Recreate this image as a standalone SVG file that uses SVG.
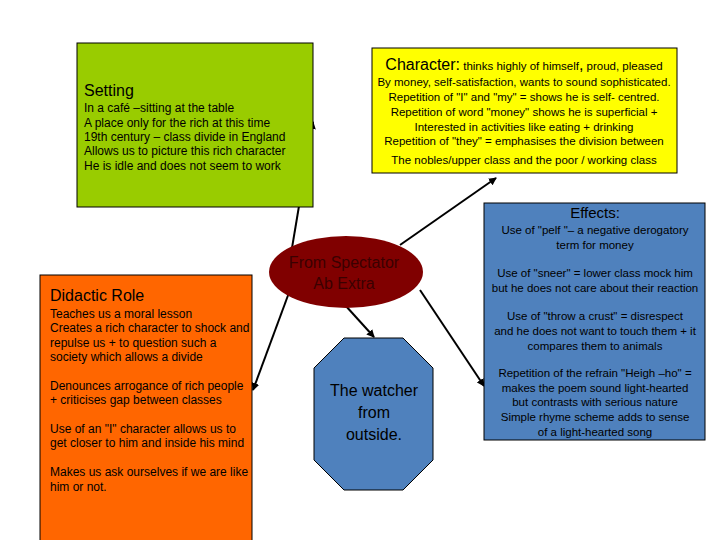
<svg xmlns="http://www.w3.org/2000/svg" width="720" height="540" viewBox="0 0 720 540">
<defs><marker id="a" markerWidth="8" markerHeight="8" refX="7" refY="4" orient="auto" markerUnits="userSpaceOnUse"><path d="M0,0L8,4L0,8z" fill="#000"/></marker></defs>
<style>text{font-family:"Liberation Sans",Arial,sans-serif;fill:#000}.s{font-size:12px}.m{font-size:11.5px}.l{stroke:#000;stroke-width:2;marker-end:url(#a)}</style>
<rect width="720" height="540" fill="#fff"/>
<g id="connectors">
<line class="l" x1="290" y1="260" x2="313" y2="122"/>
<line class="l" x1="290" y1="290" x2="253" y2="390"/>
<line class="l" x1="400" y1="245" x2="496" y2="178"/>
<line class="l" x1="420" y1="290" x2="484" y2="386"/>
<line class="l" x1="345" y1="305" x2="374" y2="337"/>
</g>
<g id="setting"><rect x="77" y="43" width="236" height="164" fill="#99cc00" stroke="#000"/>
<text x="84" y="96" font-size="16">Setting</text>
<text class="s" x="84" y="112">In a café –sitting at the table</text>
<text class="s" x="84" y="127">A place only for the rich at this time</text>
<text class="s" x="84" y="141">19th century – class divide in England</text>
<text class="s" x="84" y="155">Allows us to picture this rich character</text>
<text class="s" x="84" y="170">He is idle and does not seem to work</text></g>
<g id="character"><rect x="372" y="48" width="305" height="125" fill="#ffff00" stroke="#000"/>
<g text-anchor="middle"><text x="524" y="70" class="m"><tspan font-size="16">Character:</tspan> thinks highly of himself<tspan font-size="16">,</tspan> proud, pleased</text>
<text class="m" x="524" y="86">By money, self-satisfaction, wants to sound sophisticated.</text>
<text class="m" x="524" y="101">Repetition of "I" and "my" = shows he is self- centred.</text>
<text class="m" x="524" y="116">Repetition of word "money" shows he is superficial +</text>
<text class="m" x="524" y="131">Interested in activities like eating + drinking</text>
<text class="m" x="524" y="145">Repetition of "they" = emphasises the division between</text>
<text class="m" x="524" y="164">The nobles/upper class and the poor / working class</text></g></g>
<g id="effects"><rect x="484" y="203" width="221" height="237" fill="#4f81bd" stroke="#000"/>
<g text-anchor="middle"><text x="595" y="218" font-size="15">Effects:</text>
<text class="m" x="595" y="234">Use of "pelf "– a negative derogatory</text>
<text class="m" x="595" y="249">term for money</text>
<text class="m" x="595" y="277">Use of "sneer" = lower class mock him</text>
<text class="m" x="595" y="292">but he does not care about their reaction</text>
<text class="m" x="595" y="320">Use of "throw a crust" = disrespect</text>
<text class="m" x="595" y="335">and he does not want to touch them + it</text>
<text class="m" x="595" y="350">compares them to animals</text>
<text class="m" x="595" y="377">Repetition of the refrain "Heigh –ho" =</text>
<text class="m" x="595" y="392">makes the poem sound light-hearted</text>
<text class="m" x="595" y="406">but contrasts with serious nature</text>
<text class="m" x="595" y="421">Simple rhyme scheme adds to sense</text>
<text class="m" x="595" y="436">of a light-hearted song</text></g></g>
<g id="didactic"><rect x="40" y="275" width="212" height="270" fill="#ff6600" stroke="#000"/>
<text x="50" y="301" font-size="16">Didactic Role</text>
<text class="s" x="50" y="318">Teaches us a moral lesson</text>
<text class="s" x="50" y="332">Creates a rich character to shock and</text>
<text class="s" x="50" y="347">repulse us + to question such a</text>
<text class="s" x="50" y="361">society which allows a divide</text>
<text class="s" x="50" y="390">Denounces arrogance of rich people</text>
<text class="s" x="50" y="404">+ criticises gap between classes</text>
<text class="s" x="50" y="433">Use of an "I" character allows us to</text>
<text class="s" x="50" y="447">get closer to him and inside his mind</text>
<text class="s" x="50" y="476">Makes us ask ourselves if we are like</text>
<text class="s" x="50" y="491">him or not.</text></g>
<g id="spectator"><ellipse cx="346" cy="272" rx="77" ry="36" fill="#800000"/>
<g text-anchor="middle" font-size="16"><text x="344" y="268" style="fill:#3a0000">From Spectator</text><text x="344" y="289" style="fill:#3a0000">Ab Extra</text></g></g>
<g id="watcher"><polygon points="344,338 403,338 433,368 433,460 403,490 344,490 314,460 314,368" fill="#4f81bd" stroke="#000"/>
<g text-anchor="middle" font-size="16"><text x="374" y="396">The watcher</text><text x="374" y="418">from</text><text x="374" y="440">outside.</text></g></g>
</svg>
